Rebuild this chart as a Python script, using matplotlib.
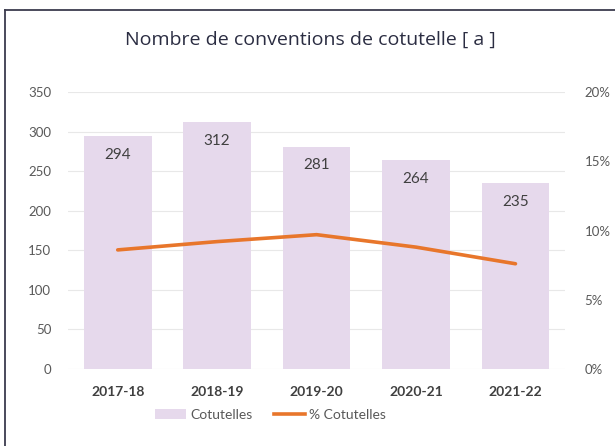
import matplotlib
matplotlib.use("Agg")
import matplotlib.pyplot as plt
from matplotlib.lines import Line2D
from matplotlib.patches import Patch

years = ["2017-18", "2018-19", "2019-20", "2020-21", "2021-22"]
cotutelles = [294, 312, 281, 264, 235]
pct_cotutelles = [8.6, 9.2, 9.7, 8.8, 7.6]

bar_color = "#e6d9ec"
line_color = "#e8762b"
text_color = "#595959"

plt.rcParams["font.family"] = ["Lato", "DejaVu Sans"]

fig = plt.figure(figsize=(6.15, 4.46), dpi=100)
ax = fig.add_axes([0.1106, 0.1726, 0.8084, 0.6211])

x = list(range(len(years)))
ax.bar(x, cotutelles, width=0.68, color=bar_color, zorder=2)
for xi, v in zip(x, cotutelles):
    ax.text(xi, v - 15, str(v), ha="center", va="top", fontsize=11, color="#404040", zorder=4)

ax.set_ylim(0, 350)
ax.set_xlim(-0.5, 4.5)
ax.set_yticks(range(0, 351, 50))
ax.grid(axis="y", color="#e8e8e8", linewidth=0.8, zorder=0)
ax.set_xticks(x)
ax.set_xticklabels(years, fontweight="bold", fontsize=10, color="#404040")
ax.tick_params(axis="y", length=0, labelsize=9.5, labelcolor=text_color, pad=12)
ax.tick_params(axis="x", length=0, pad=12)
for s in ax.spines.values():
    s.set_visible(False)

ax2 = ax.twinx()
ax2.plot(x, pct_cotutelles, color=line_color, linewidth=2.6, solid_capstyle="round", zorder=5)
ax2.set_ylim(0, 20)
ax2.set_yticks(range(0, 21, 5))
ax2.set_yticklabels([f"{v}%" for v in range(0, 21, 5)])
ax2.tick_params(axis="y", length=0, labelsize=9.5, labelcolor=text_color, pad=14)
for s in ax2.spines.values():
    s.set_visible(False)

handles = [Patch(facecolor=bar_color, edgecolor="none"),
           Line2D([0], [0], color=line_color, linewidth=2.6)]
fig.legend(handles, ["Cotutelles", "% Cotutelles"], loc="center", bbox_to_anchor=(0.44, 0.07),
           ncol=2, frameon=False, fontsize=10, labelcolor=text_color,
           handlelength=2.2, handletextpad=0.3, columnspacing=1.6)

fig.text(0.505, 0.91, "Nombre de conventions de cotutelle [ a ]", ha="center", va="center",
         fontsize=14, color="#2b2d42", family=["Open Sans", "DejaVu Sans"])

# frame around the card (left and top edges visible)
fig.add_artist(Line2D([0.008, 0.008], [0.0, 0.978], color="#3c3c4e", linewidth=1.3))
fig.add_artist(Line2D([0.008, 1.0], [0.978, 0.978], color="#3c3c4e", linewidth=1.3))

fig.savefig("out.png", dpi=100)
